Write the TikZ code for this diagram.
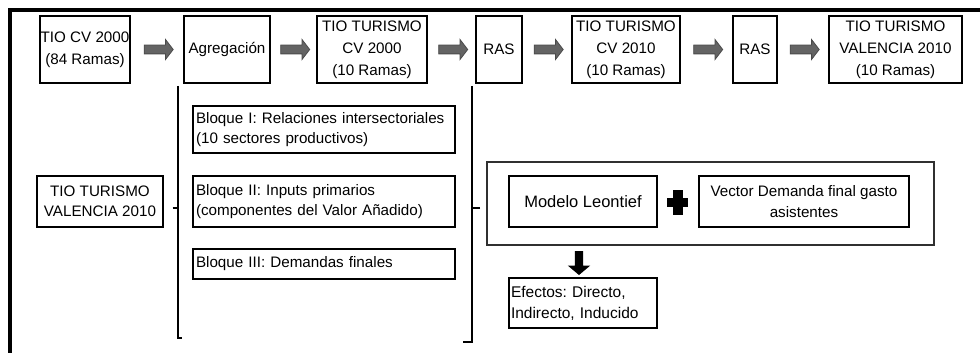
\documentclass[tikz,border=0pt]{standalone}
\usepackage{fontspec}
\setmainfont{Liberation Sans}
\usetikzlibrary{shapes.arrows,calc}
\definecolor{arrgray}{HTML}{646464}
\definecolor{arredge}{HTML}{4A4A4A}
\definecolor{framegray}{HTML}{303030}
\tikzset{
  topbox/.style={draw, line width=1.2pt, inner sep=0pt, align=center, minimum height=67pt,
    font=\fontsize{15.2}{22}\selectfont},
  thickbox/.style={draw, line width=2.6pt, inner sep=0pt, minimum height=#1,
    font=\fontsize{15.2}{20.5}\selectfont},
  leftbox/.style={thickbox=#1, text width=256pt, align=left},
  grayarrow/.style={single arrow, fill=arrgray, draw=arredge, line width=0.8pt,
    minimum height=29pt, inner sep=4pt, single arrow head extend=5.5pt,
    single arrow tip angle=105, shape border rotate=0},
  framelin/.style={line width=3.2pt},
  bracelin/.style={line width=1.4pt}
}
\begin{document}
\frenchspacing
\begin{tikzpicture}[x=1pt,y=-1pt]
\useasboundingbox (0,0) rectangle (980,353);
% outer frame
\coordinate (fa) at (10,353);
\coordinate (fb) at (10,10);
\coordinate (fc) at (980,10);
\draw[framelin] (fa) -- (fb) -- (fc);
% top row
\node[topbox, minimum width=90pt] (a1) at (85,49.5) {TIO CV 2000\\(84 Ramas)};
\node[topbox, minimum width=86pt] (a2) at (227,49.5) {Agregación};
\node[topbox, minimum width=110pt] (a3) at (372,49.5) {TIO TURISMO\\CV 2000\\(10 Ramas)};
\node[topbox, minimum width=46pt] (a4) at (499,49.5) {RAS};
\node[topbox, minimum width=108pt] (a5) at (626,49.5) {TIO TURISMO\\CV 2010\\(10 Ramas)};
\node[topbox, minimum width=44pt] (a6) at (755,49.5) {RAS};
\node[topbox, minimum width=133pt] (a7) at (895.5,49.5) {TIO TURISMO\\VALENCIA 2010\\(10 Ramas)};
\node[grayarrow] (r1) at ($(a1.east)!0.5!(a2.west)$) {};
\node[grayarrow] (r2) at ($(a2.east)!0.5!(a3.west)$) {};
\node[grayarrow] (r3) at ($(a3.east)!0.5!(a4.west)$) {};
\node[grayarrow] (r4) at ($(a4.east)!0.5!(a5.west)$) {};
\node[grayarrow] (r5) at ($(a5.east)!0.5!(a6.west)$) {};
\node[grayarrow] (r6) at ($(a6.east)!0.5!(a7.west)$) {};
% left part
\node[thickbox=51pt, minimum width=126pt, align=center] (lv) at (100,201.5) {TIO TURISMO\\VALENCIA 2010};
\node[leftbox=47pt, minimum width=262pt] (b1) at (324,129.5) {Bloque I: Relaciones intersectoriales\\(10 sectores productivos)};
\node[leftbox=51pt, minimum width=262pt] (b2) at (324,201.5) {Bloque II: Inputs primarios\\(componentes del Valor Añadido)};
\node[leftbox=30pt, minimum width=262pt] (b3) at (324,264) {Bloque III: Demandas finales};
% braces
\coordinate (l1) at (178,86);
\coordinate (l2) at (178,338);
\coordinate (l3) at (182,338);
\coordinate (l4) at (172.5,208);
\coordinate (l5) at (178,208);
\draw[bracelin] (l1) -- (l2) -- (l3);
\draw[bracelin] (l4) -- (l5);
\coordinate (m1) at (472,86);
\coordinate (m2) at (472,342);
\coordinate (m3) at (463,342);
\coordinate (m4) at (480,208);
\coordinate (m5) at (472,208);
\draw[bracelin] (m1) -- (m2) -- (m3);
\draw[bracelin] (m4) -- (m5);
% right group
\node[draw=framegray, line width=1.6pt, minimum width=447pt, minimum height=83pt, inner sep=0pt] (og) at (710.5,203.5) {};
\node[thickbox=51pt, minimum width=148pt, align=center, font=\fontsize{16.5}{20}\selectfont] (ml) at (583,201.5) {Modelo Leontief};
\node[thickbox=51pt, minimum width=210pt, align=center, font=\fontsize{15.2}{20.5}\selectfont] (vd) at (804,201.5) {Vector Demanda final gasto\\asistentes};
\node[fill=black, minimum width=21pt, minimum height=9pt, inner sep=0pt] (plh) at (677.5,202.5) {};
\node[fill=black, minimum width=10pt, minimum height=25pt, inner sep=0pt] (plv) at (plh) {};
\node[thickbox=50pt, minimum width=148pt, text width=144pt, align=left, font=\fontsize{15.5}{21}\selectfont] (ef) at (583,303) {Efectos: Directo,\\Indirecto, Inducido};
\coordinate (dtop) at (og.south -| ef.north);
\node[single arrow, fill=black, inner sep=4pt, minimum height=24pt, single arrow head extend=7pt,
  single arrow tip angle=100, shape border rotate=270] (da) at ($(dtop)!0.5!(ef.north) - (4,0)$) {};
\end{tikzpicture}
\end{document}
